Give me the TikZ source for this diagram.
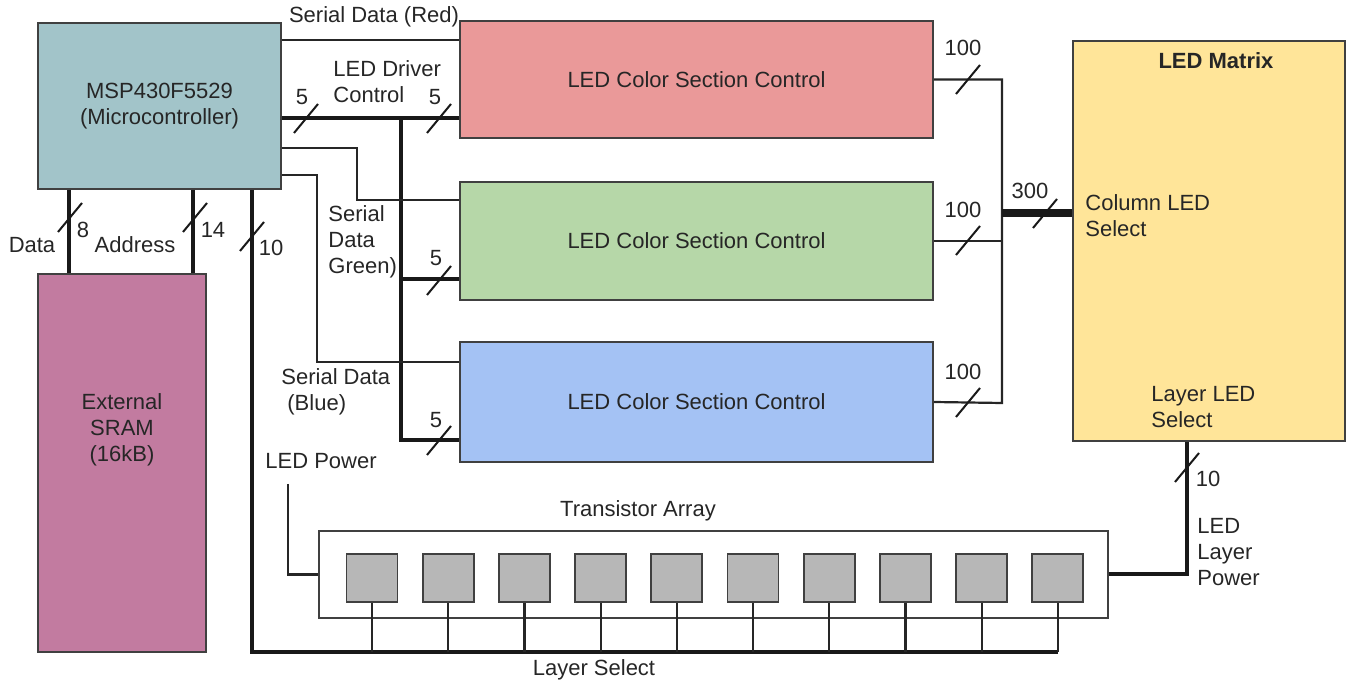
\documentclass[tikz,border=0pt]{standalone}
\usepackage{fontspec}
\setmainfont{Liberation Sans}
\usetikzlibrary{positioning,calc}

\definecolor{mcucol}{HTML}{A2C4C9}
\definecolor{sramcol}{HTML}{C27BA0}
\definecolor{redcol}{HTML}{EA9999}
\definecolor{greencol}{HTML}{B6D7A8}
\definecolor{bluecol}{HTML}{A4C2F4}
\definecolor{matrixcol}{HTML}{FFE599}
\definecolor{transcol}{HTML}{B7B7B7}

\tikzset{
  blk/.style={draw=black!75, line width=0.9pt, inner sep=0pt, font=\fontsize{11}{13}\selectfont, text=black!85, align=center},
  sig/.style={line width=1.1pt, black!85},
  bus/.style={line width=2pt, black!90},
  widebus/.style={line width=4pt, black!90},
  lbl/.style={font=\fontsize{11}{13}\selectfont, text=black!85, inner sep=1pt, align=left},
  buscut/.pic={\draw[line width=1pt, black!90] (-12,14) -- (12,-15);},
}

\begin{document}
\begin{tikzpicture}[x=0.5pt, y=-0.5pt]
\useasboundingbox (0,0) rectangle (1350,683);

% blocks
\node[blk, fill=mcucol, minimum width=121.5pt, minimum height=83pt] (mcu) at (159.5,106) {MSP430F5529\\(Microcontroller)};
\node[blk, fill=sramcol, minimum width=84pt, minimum height=189pt] (sram) at (122,463) {};
\node[lbl, align=center] (sramtxt) at (122,430) {External\\SRAM\\(16kB)};
\node[blk, fill=redcol, minimum width=236.5pt, minimum height=58.5pt] (red) at (696.5,79.5) {LED Color Section Control};
\node[blk, fill=greencol, minimum width=236.5pt, minimum height=59pt] (green) at (696.5,241) {LED Color Section Control};
\node[blk, fill=bluecol, minimum width=236.5pt, minimum height=60pt] (blue) at (696.5,402) {LED Color Section Control};
\node[blk, fill=matrixcol, minimum width=136pt, minimum height=200pt] (matrix) at (1209,241) {};
\node[lbl, font=\fontsize{11}{13}\selectfont\bfseries] (mtitle) at (1216,61) {LED Matrix};
\node[lbl, anchor=west] (colsel) at (1083,216) {Column LED\\Select};
\node[lbl, anchor=west] (laysel) at (1149,407) {Layer LED\\Select};

% transistor array
\node[blk, fill=white, minimum width=394.5pt, minimum height=43.5pt] (tarray) at (713.5,574.5) {};
\node[lbl, align=center] (tarraytxt) at (638,511) {Transistor Array};
\foreach \i in {1,...,10}
  \node[blk, fill=transcol, minimum width=25.5pt, minimum height=24pt] (t\i) at ({372+76.2*(\i-1)},578) {};

% microcontroller to color sections
\draw[sig] (mcu.east |- 0,40) -- (red.west |- 0,40);
\node[lbl, align=center] (sdred) at (374,17) {Serial Data (Red)};
\draw[bus] (mcu.east |- 0,118) -- (red.west |- 0,118);
\coordinate (drv) at (401,118);
\draw[bus] (drv) |- (blue.west |- 0,440);
\draw[bus] (drv |- 0,279) -- (green.west |- 0,279);
\node[lbl, anchor=west] (drvtxt) at (331,82) {LED Driver\\Control};
\draw[sig] (mcu.east |- 0,148) -| (357,200) -- (green.west |- 0,200);
\node[lbl, anchor=west] (sdgreen) at (326,242) {Serial\\Data\\Green)};
\draw[sig] (mcu.east |- 0,175) -| (317,362) -- (blue.west |- 0,362);
\node[lbl, anchor=west] (sdblue) at (279,392) {Serial Data\\\hspace{3pt}(Blue)};

\pic at (306,119) {buscut};
\node[lbl] (n5a) at (302,97) {5};
\pic at (439,119) {buscut};
\node[lbl] (n5b) at (435,97) {5};
\pic at (439,281) {buscut};
\node[lbl] (n5c) at (436,258) {5};
\pic at (439,441) {buscut};
\node[lbl] (n5d) at (436,420) {5};

% microcontroller to sram
\draw[bus] (mcu.south -| 69,0) -- (sram.north -| 69,0);
\pic at (70,218) {buscut};
\node[lbl] (n8) at (83,230) {8};
\node[lbl] (datatxt) at (32,245) {Data};
\draw[bus] (mcu.south -| 193,0) -- (sram.north -| 193,0);
\pic at (195,218) {buscut};
\node[lbl] (n14) at (213,230) {14};
\node[lbl] (addrtxt) at (135,245) {Address};

% layer select
\draw[bus] (mcu.south -| 252,0) |- (t10.south |- 0,652);
\pic at (252,237) {buscut};
\node[lbl] (n10a) at (271,248) {10};
\foreach \i in {1,...,10}
  \draw[sig] (t\i.south) -- (t\i.south |- 0,652);
\node[lbl] (laytxt) at (594,670) {Layer Select};

% color sections to matrix
\draw[sig] (red.east) -| (1002,403) -- (blue.east);
\draw[sig] (green.east) -- (1002,241);
\draw[widebus] (1002,213) -- (matrix.west |- 0,213);
\pic at (968,80) {buscut};
\node[lbl] (n100a) at (963,48) {100};
\pic at (968,241) {buscut};
\node[lbl] (n100b) at (963,210) {100};
\pic at (968,403) {buscut};
\node[lbl] (n100c) at (963,372) {100};
\pic at (1045,214) {buscut};
\node[lbl] (n300) at (1030,191) {300};

% layer power
\draw[bus] (matrix.south -| 1187,0) |- (tarray.east);
\pic at (1187,468) {buscut};
\node[lbl] (n10b) at (1208,479) {10};
\node[lbl, anchor=west] (lptxt) at (1195,552) {LED\\Layer\\Power};

% led power
\coordinate (pwr) at (288,484);
\draw[sig] (pwr) |- (tarray.west);
\node[lbl] (pwrtxt) at (321,461) {LED Power};
\end{tikzpicture}
\end{document}
